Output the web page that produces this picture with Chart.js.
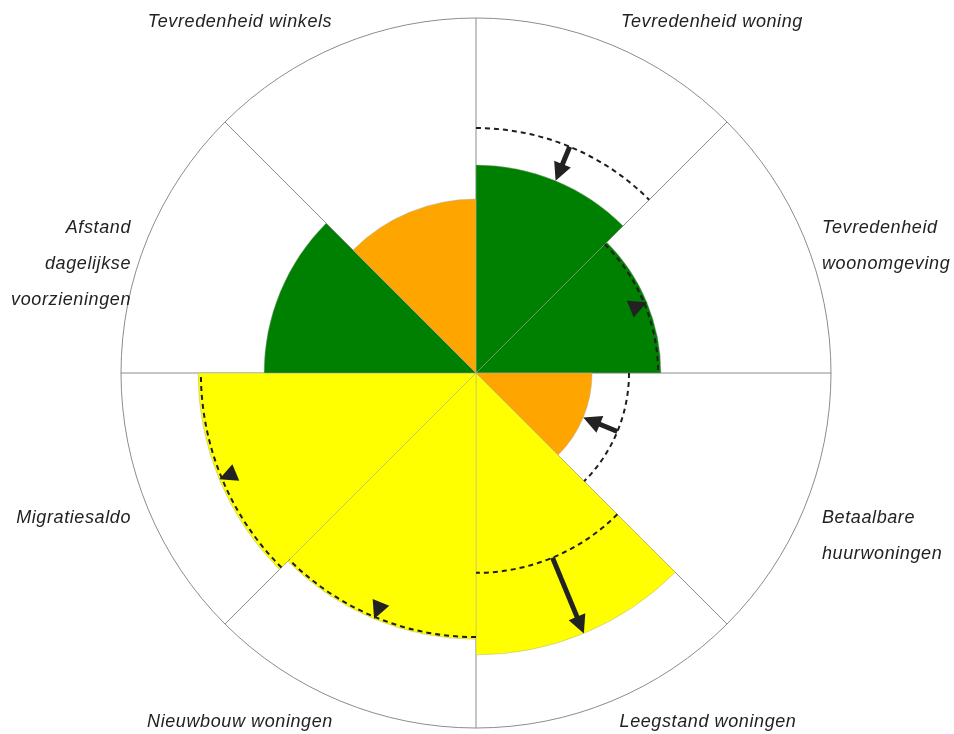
<!DOCTYPE html>
<html><head><meta charset="utf-8">
<script src="https://cdn.jsdelivr.net/npm/chart.js@4"></script>
<style>html,body{margin:0;padding:0;background:#fff;}#wrap{width:954px;height:734px;position:relative;}</style>
</head><body><div id="wrap"><canvas id="c"></canvas></div>
<script>
const categories = ['Tevredenheid woning','Tevredenheid woonomgeving','Betaalbare huurwoningen','Leegstand woningen','Nieuwbouw woningen','Migratiesaldo','Afstand dagelijkse voorzieningen','Tevredenheid winkels'];
const labelLines = [['Tevredenheid woning'],['Tevredenheid','woonomgeving'],['Betaalbare','huurwoningen'],['Leegstand woningen'],['Nieuwbouw woningen'],['Migratiesaldo'],['Afstand','dagelijkse','voorzieningen'],['Tevredenheid winkels']];
const scores = [58.6, 52.1, 32.7, 79.4, 75.0, 78.3, 59.7, 49.0];
const referenceValues = [69.0, 51.3, 43.1, 56.3, 74.4, 77.5, null, null];
const barColors = ['#008000','#008000','#FFA500','#FFFF00','#FFFF00','#FFFF00','#008000','#FFA500'];
const scaleMax = 100;

const labelPos = [
  {dx:236, dy:-351, align:'center'},
  {dx:346, dy:-145, align:'left'},
  {dx:346, dy:145, align:'left'},
  {dx:232, dy:349, align:'center'},
  {dx:-236, dy:349, align:'center'},
  {dx:-345, dy:145, align:'right'},
  {dx:-345, dy:-145, align:'right'},
  {dx:-236, dy:-351, align:'center'}
];

const overlay = {
  id: 'overlay',
  afterDatasetsDraw(chart) {
    const ctx = chart.ctx;
    const s = chart.scales.r;
    const cx = s.xCenter, cy = s.yCenter;
    const step = Math.PI * 2 / categories.length;
    ctx.save();
    referenceValues.forEach((v, i) => {
      if (v === null) return;
      const r = s.getDistanceFromCenterForValue(v);
      const a0 = s.getIndexAngle(i) - Math.PI / 2;
      ctx.beginPath();
      ctx.setLineDash([5, 4]);
      ctx.lineWidth = 2;
      ctx.strokeStyle = '#1e1e1e';
      ctx.arc(cx, cy, r, a0, a0 + step);
      ctx.stroke();
    });
    ctx.setLineDash([]);
    referenceValues.forEach((v, i) => {
      if (v === null) return;
      const r0 = s.getDistanceFromCenterForValue(v);
      const r1 = s.getDistanceFromCenterForValue(scores[i]);
      const a = s.getIndexAngle(i) - Math.PI / 2 + step / 2;
      const ux = Math.cos(a), uy = Math.sin(a);
      const dir = r1 >= r0 ? 1 : -1;
      const headLen = 18, headW = 9;
      const tipX = cx + ux * r1, tipY = cy + uy * r1;
      const baseR = r1 - dir * headLen;
      const bx = cx + ux * baseR, by = cy + uy * baseR;
      ctx.fillStyle = '#222';
      ctx.strokeStyle = '#222';
      if (Math.abs(r1 - r0) > headLen) {
        ctx.beginPath();
        ctx.lineWidth = 5;
        ctx.moveTo(cx + ux * r0, cy + uy * r0);
        ctx.lineTo(cx + ux * (baseR + dir * 2), cy + uy * (baseR + dir * 2));
        ctx.stroke();
      }
      const px = -uy, py = ux;
      ctx.beginPath();
      ctx.moveTo(tipX, tipY);
      ctx.lineTo(bx + px * headW, by + py * headW);
      ctx.lineTo(bx - px * headW, by - py * headW);
      ctx.closePath();
      ctx.fill();
    });
    ctx.fillStyle = '#222';
    ctx.font = "italic 18px 'Liberation Sans', Arial, sans-serif";
    try { ctx.letterSpacing = '0.6px'; } catch (e) {}
    ctx.textBaseline = 'middle';
    labelLines.forEach((lines, i) => {
      const p = labelPos[i];
      ctx.textAlign = p.align;
      lines.forEach((t, k) => {
        ctx.fillText(t, cx + p.dx, cy + p.dy + k * 36);
      });
    });
    ctx.restore();
  }
};

new Chart(document.getElementById('c'), {
  type: 'polarArea',
  data: {
    labels: categories,
    datasets: [{
      data: scores,
      backgroundColor: barColors,
      borderColor: 'rgba(170,170,170,0.45)',
      borderWidth: 1
    }]
  },
  options: {
    responsive: true,
    maintainAspectRatio: false,
    animation: false,
    layout: { padding: { top: 18, bottom: 6, left: 121, right: 123 } },
    plugins: { legend: { display: false }, tooltip: { enabled: false } },
    scales: {
      r: {
        min: 0,
        max: scaleMax,
        ticks: { display: false, stepSize: scaleMax },
        grid: { display: true, circular: true, color: '#8c8c8c', lineWidth: 1 },
        angleLines: { display: true, color: '#8c8c8c', lineWidth: 1 },
        pointLabels: { display: false }
      }
    }
  },
  plugins: [overlay]
});
</script>
</body></html>
